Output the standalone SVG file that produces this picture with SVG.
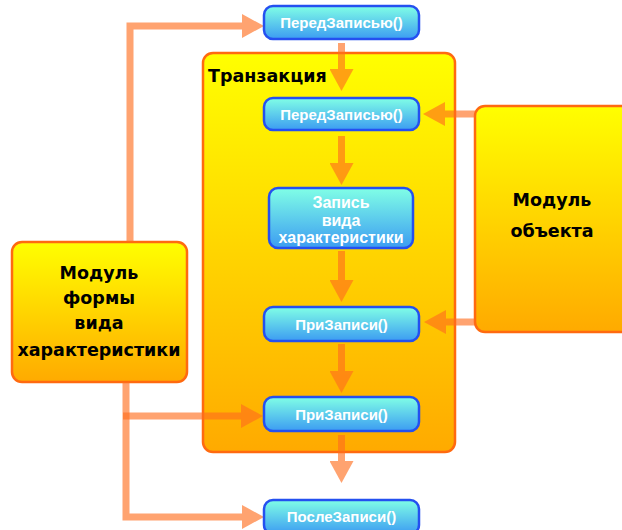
<svg xmlns="http://www.w3.org/2000/svg" width="622" height="530" viewBox="0 0 622 530">
<defs>
<linearGradient id="gy" x1="0" y1="0" x2="0" y2="1">
<stop offset="0" stop-color="#FFFF00"/>
<stop offset="1" stop-color="#FFAA00"/>
</linearGradient>
<linearGradient id="gb" x1="0" y1="0" x2="0" y2="1">
<stop offset="0" stop-color="#80FFE6"/>
<stop offset="1" stop-color="#3C9CF2"/>
</linearGradient>
<marker id="ah" viewBox="0 0 22 24" refX="8" refY="12" markerWidth="22" markerHeight="24" markerUnits="userSpaceOnUse" orient="auto">
<path d="M0,0 L22,12 L0,24 z" fill="#FF6E1E"/>
</marker>
<style>
.yb{fill:url(#gy);stroke:#FF6A10;stroke-width:2.5}
.bb{fill:url(#gb);stroke:#2450F0;stroke-width:2.5}
.bt{font-family:"Liberation Sans",Arial,sans-serif;font-weight:bold;font-size:15px;fill:#FFFFFF;text-anchor:middle}
.bt2{font-size:16px}
.yt{font-family:"DejaVu Sans","Liberation Sans",sans-serif;font-weight:bold;font-size:17.5px;fill:#000000;text-anchor:middle}
.c{opacity:0.63}
.c path{fill:none;stroke:#FF6E1E;stroke-width:7;marker-end:url(#ah)}
</style>
</defs>
<rect width="622" height="530" fill="#FFFFFF"/>
<g id="transaction">
<rect class="yb" x="203" y="53" width="252" height="399" rx="10"/>
<text class="yt" x="208" y="82" style="text-anchor:start">Транзакция</text>
</g>
<g id="form-module">
<rect class="yb" x="12" y="242" width="175" height="140" rx="10"/>
<text class="yt" x="99" y="279">Модуль</text>
<text class="yt" x="99" y="304">формы</text>
<text class="yt" x="99" y="329">вида</text>
<text class="yt" x="99" y="356">характеристики</text>
</g>
<g id="object-module">
<rect class="yb" x="475" y="106" width="170" height="226" rx="10"/>
<text class="yt" x="552" y="206">Модуль</text>
<text class="yt" x="552" y="237">объекта</text>
</g>
<g id="connectors">
<g class="c"><path d="M130,242 V26 H250"/></g>
<g class="c"><path d="M126,382 V517 H250"/></g>
<g class="c"><path d="M123,416 H249"/></g>
<g class="c"><path d="M341.5,43 V77"/></g>
<g class="c"><path d="M341.5,136 V171"/></g>
<g class="c"><path d="M341.5,251 V288"/></g>
<g class="c"><path d="M341.5,344 V379"/></g>
<g class="c"><path d="M341.5,435 V469"/></g>
<g class="c"><path d="M475,114 H437"/></g>
<g class="c"><path d="M475,322 H438"/></g>
</g>
<g id="before-write-outer">
<rect class="bb" x="264" y="6" width="155" height="33" rx="9"/>
<text class="bt" x="341.5" y="28">ПередЗаписью()</text>
</g>
<g id="before-write-inner">
<rect class="bb" x="264" y="98" width="155" height="32" rx="9"/>
<text class="bt" x="341.5" y="119.5">ПередЗаписью()</text>
</g>
<g id="record">
<rect class="bb" x="269" y="188" width="144" height="60" rx="9"/>
<text class="bt bt2" x="341" y="208">Запись</text>
<text class="bt bt2" x="341" y="225.5">вида</text>
<text class="bt bt2" x="341" y="243">характеристики</text>
</g>
<g id="on-write-1">
<rect class="bb" x="264" y="307" width="155" height="34" rx="9"/>
<text class="bt" x="341.5" y="329.5">ПриЗаписи()</text>
</g>
<g id="on-write-2">
<rect class="bb" x="264" y="397" width="155" height="34" rx="9"/>
<text class="bt" x="341.5" y="419.5">ПриЗаписи()</text>
</g>
<g id="after-write">
<rect class="bb" x="264" y="500" width="155" height="34" rx="9"/>
<text class="bt" x="341.5" y="522">ПослеЗаписи()</text>
</g>
</svg>
